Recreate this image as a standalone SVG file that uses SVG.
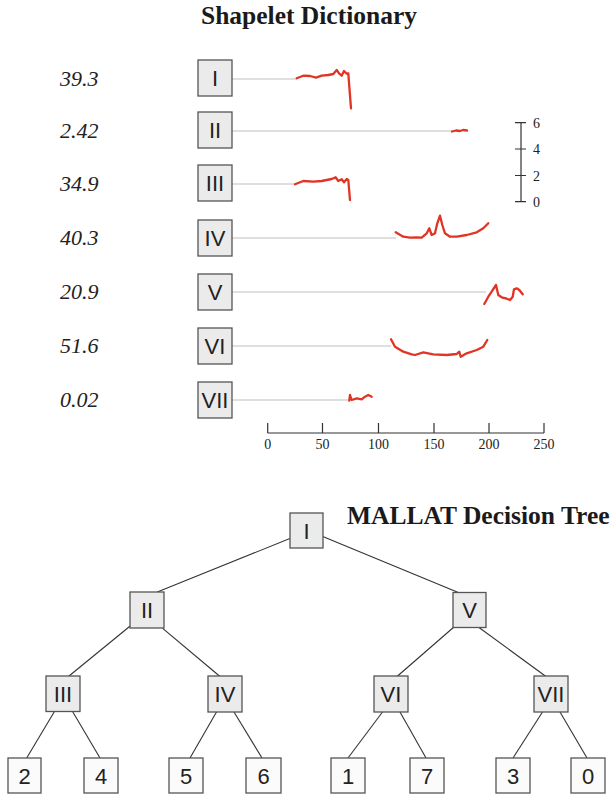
<svg xmlns="http://www.w3.org/2000/svg" width="613" height="796" viewBox="0 0 613 796">
  <style>
    .title { font-family: "Liberation Serif", "Times New Roman", serif; font-weight: bold; font-size: 25.5px; fill: #1a1a1a; }
    .score { font-family: "Liberation Serif", "Times New Roman", serif; font-style: italic; font-size: 22px; fill: #222; }
    .tick { font-family: "Liberation Serif", "Times New Roman", serif; font-size: 14px; fill: #222; }
    .box { fill: #ebebeb; stroke: #555; stroke-width: 1.3; }
    .leaf { fill: #fbfbfb; stroke: #555; stroke-width: 1.3; }
    .lbl { font-family: "Liberation Sans", Arial, sans-serif; font-size: 22px; fill: #222; text-anchor: middle; }
    .guide { stroke: #d4d4d4; stroke-width: 1.5; fill: none; }
    .shape { stroke: #e03424; stroke-width: 2.3; fill: none; stroke-linejoin: round; stroke-linecap: round; }
    .axis { stroke: #333; stroke-width: 1.2; fill: none; }
    .edge { stroke: #333; stroke-width: 1.1; fill: none; }
  </style>

  <!-- Dictionary section -->
  <text class="title" x="309" y="24" text-anchor="middle">Shapelet Dictionary</text>

  <g id="scores">
    <text class="score" x="60" y="86">39.3</text>
    <text class="score" x="60" y="138">2.42</text>
    <text class="score" x="60" y="191">34.9</text>
    <text class="score" x="60" y="245">40.3</text>
    <text class="score" x="60" y="299">20.9</text>
    <text class="score" x="60" y="353">51.6</text>
    <text class="score" x="60" y="407">0.02</text>
  </g>

  <!-- guide lines from each label box to its shapelet offset -->
  <g id="guides">
    <line class="guide" x1="232" y1="79" x2="297" y2="79"/>
    <line class="guide" x1="232" y1="131" x2="452" y2="131"/>
    <line class="guide" x1="232" y1="184" x2="295" y2="184"/>
    <line class="guide" x1="232" y1="238" x2="396" y2="238"/>
    <line class="guide" x1="232" y1="292" x2="486" y2="292"/>
    <line class="guide" x1="232" y1="346" x2="391" y2="346"/>
    <line class="guide" x1="232" y1="400" x2="349" y2="400"/>
  </g>

  <g id="dict-I">
    <rect class="box" x="198" y="60" width="34" height="36"/>
    <text class="lbl" x="215" y="86">I</text>
    <polyline class="shape" points="296.7,78.3 303.3,75.7 310,76 316,77.7 321.7,75.7 328.3,75 333.3,74 336.7,70 339,73.3 341.7,75.7 344,71 346.7,73.7 348.3,73.3 351,108.3"/>
  </g>
  <g id="dict-II">
    <rect class="box" x="198" y="112" width="34" height="36"/>
    <text class="lbl" x="215" y="138">II</text>
    <polyline class="shape" points="452,131.5 456,130.5 460,131 463,130 467,130.5"/>
  </g>
  <g id="dict-III">
    <rect class="box" x="198" y="165" width="34" height="36"/>
    <text class="lbl" x="215" y="191">III</text>
    <polyline class="shape" points="295,184.3 303.3,181 313.3,181.7 321.7,181 331.7,179 335.7,177.3 338.3,181 341.7,179.3 344,182.3 346.7,179 348.3,180 350,200"/>
  </g>
  <g id="dict-IV">
    <rect class="box" x="198" y="220" width="34" height="36"/>
    <text class="lbl" x="215" y="246">IV</text>
    <polyline class="shape" points="395.7,232.3 403.3,236.7 410,237.7 416.7,237.3 421.7,237.7 426.7,233.3 429.3,228.3 431.7,235 435,233.3 437.3,223.3 440,215.7 442.3,225 445,233.3 450,236.7 456.7,236.7 466.7,235 476.7,232.3 483.3,228.3 488.3,223.3"/>
  </g>
  <g id="dict-V">
    <rect class="box" x="198" y="274" width="34" height="36"/>
    <text class="lbl" x="215" y="300">V</text>
    <polyline class="shape" points="484.3,304 488.3,296.7 492.3,290.7 496,285 498.3,295 501.7,297.3 506.7,298.7 510,300 512.7,296.7 514,289.3 516.7,288.3 519.3,290 522.7,294.3"/>
  </g>
  <g id="dict-VI">
    <rect class="box" x="198" y="328" width="34" height="36"/>
    <text class="lbl" x="215" y="354">VI</text>
    <polyline class="shape" points="391,339.3 395,346.7 403.3,351.7 411.7,354.3 415,355 423.3,352.3 433.3,354.3 446.7,355 456.7,354 459.3,351.7 460.7,356.7 466.7,353.3 476.7,350 483.3,346.7 487.3,340"/>
  </g>
  <g id="dict-VII">
    <rect class="box" x="198" y="382" width="34" height="36"/>
    <text class="lbl" x="215" y="408">VII</text>
    <polyline class="shape" points="349.3,400.7 350,395 351.7,400 356.7,398.3 361.7,399.3 365,396.7 368.3,395 371.7,396.7"/>
  </g>

  <!-- time axis -->
  <g id="x-axis">
    <line class="axis" x1="267.7" y1="433" x2="544" y2="433"/>
    <path class="axis" d="M267.7,423V433 M322.5,423V433 M378.5,423V433 M434,423V433 M489,423V433 M544,423V433"/>
    <text class="tick" x="267.7" y="448.5" text-anchor="middle">0</text>
    <text class="tick" x="322.5" y="448.5" text-anchor="middle">50</text>
    <text class="tick" x="378.5" y="448.5" text-anchor="middle">100</text>
    <text class="tick" x="434" y="448.5" text-anchor="middle">150</text>
    <text class="tick" x="489" y="448.5" text-anchor="middle">200</text>
    <text class="tick" x="544" y="448.5" text-anchor="middle">250</text>
  </g>

  <!-- value axis -->
  <g id="y-axis">
    <line class="axis" x1="521" y1="122.7" x2="521" y2="201.7"/>
    <path class="axis" d="M515,122.7H526 M515,149H526 M515,175.5H526 M515,201.7H526"/>
    <text class="tick" x="533" y="127.5">6</text>
    <text class="tick" x="533" y="153.5">4</text>
    <text class="tick" x="533" y="180.5">2</text>
    <text class="tick" x="533" y="206.5">0</text>
  </g>

  <!-- Decision tree section -->
  <text class="title" x="347" y="524">MALLAT Decision Tree</text>

  <g id="edges">
    <line class="edge" x1="306" y1="532" x2="157.3" y2="592"/>
    <line class="edge" x1="307" y1="530" x2="458.3" y2="592.5"/>
    <line class="edge" x1="140" y1="618" x2="69" y2="676"/>
    <line class="edge" x1="162.7" y1="628.3" x2="220" y2="676.5"/>
    <line class="edge" x1="462" y1="620" x2="397" y2="676.5"/>
    <line class="edge" x1="479" y1="627.5" x2="546" y2="676.5"/>
    <line class="edge" x1="54.3" y1="711.7" x2="26.7" y2="758"/>
    <line class="edge" x1="72.7" y1="711.7" x2="100" y2="758"/>
    <line class="edge" x1="216.5" y1="712" x2="190" y2="758"/>
    <line class="edge" x1="234" y1="712" x2="262" y2="758"/>
    <line class="edge" x1="382.5" y1="712" x2="348" y2="758"/>
    <line class="edge" x1="400" y1="712" x2="426" y2="758"/>
    <line class="edge" x1="542.5" y1="712" x2="513" y2="758"/>
    <line class="edge" x1="560" y1="712" x2="587" y2="758"/>
  </g>

  <g id="node-I"><rect class="box" x="290" y="513" width="33" height="35"/><text class="lbl" x="306.5" y="538.5">I</text></g>
  <g id="node-II"><rect class="box" x="130" y="592" width="34" height="36"/><text class="lbl" x="147" y="618">II</text></g>
  <g id="node-V"><rect class="box" x="453" y="592.5" width="33" height="35"/><text class="lbl" x="469.5" y="618">V</text></g>
  <g id="node-III"><rect class="box" x="46" y="676" width="34" height="35.5"/><text class="lbl" x="63" y="702">III</text></g>
  <g id="node-IV"><rect class="box" x="208" y="676" width="34" height="36"/><text class="lbl" x="225" y="702">IV</text></g>
  <g id="node-VI"><rect class="box" x="374" y="676" width="34" height="36"/><text class="lbl" x="391" y="702">VI</text></g>
  <g id="node-VII"><rect class="box" x="534" y="676" width="34" height="36"/><text class="lbl" x="551" y="702">VII</text></g>

  <g id="leaf-2"><rect class="leaf" x="8" y="758" width="33" height="35"/><text class="lbl" x="24.5" y="783.5">2</text></g>
  <g id="leaf-4"><rect class="leaf" x="84" y="758" width="34" height="35"/><text class="lbl" x="101" y="783.5">4</text></g>
  <g id="leaf-5"><rect class="leaf" x="169" y="758" width="34" height="35"/><text class="lbl" x="186" y="783.5">5</text></g>
  <g id="leaf-6"><rect class="leaf" x="246" y="758" width="35" height="35"/><text class="lbl" x="263.5" y="783.5">6</text></g>
  <g id="leaf-1"><rect class="leaf" x="331" y="758" width="34" height="35"/><text class="lbl" x="348" y="783.5">1</text></g>
  <g id="leaf-7"><rect class="leaf" x="410" y="758" width="34" height="35"/><text class="lbl" x="427" y="783.5">7</text></g>
  <g id="leaf-3"><rect class="leaf" x="496" y="758" width="34" height="35"/><text class="lbl" x="513" y="783.5">3</text></g>
  <g id="leaf-0"><rect class="leaf" x="571" y="758" width="34" height="35"/><text class="lbl" x="588" y="783.5">0</text></g>
</svg>
